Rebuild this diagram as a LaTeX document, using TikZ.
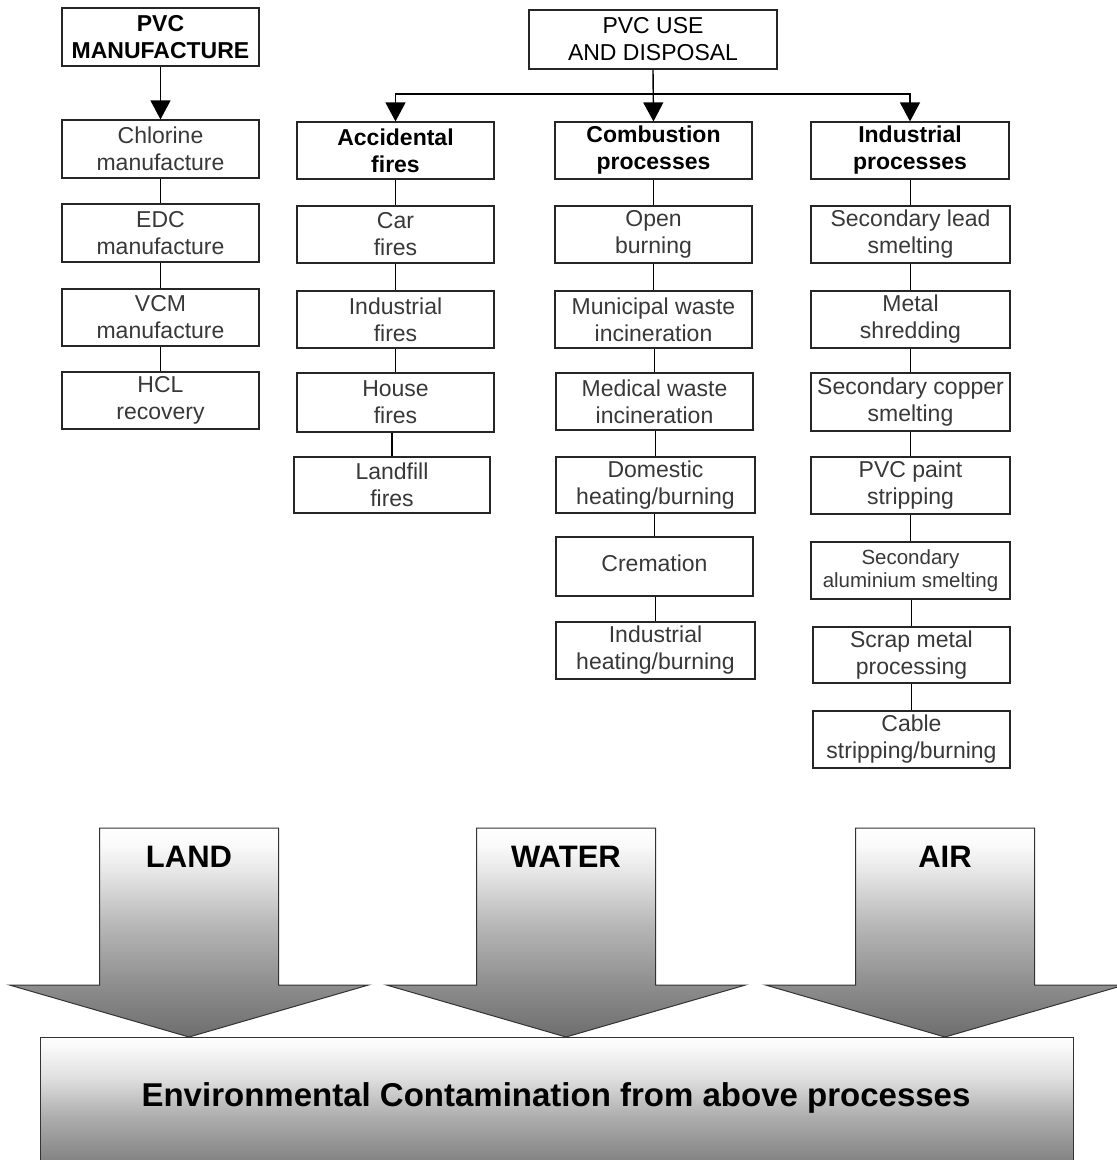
\documentclass[tikz,border=0pt]{standalone}
\usepackage{fontspec}
\setmainfont{Liberation Sans}
\usetikzlibrary{arrows.meta}
\pgfdeclareverticalshading{arrsh}{100bp}{color(0bp)=(black!57); color(25bp)=(black!57); color(37bp)=(black!45); color(52bp)=(black!28); color(65bp)=(black!9); color(71bp)=(black!2); color(75bp)=(white); color(100bp)=(white)}
\pgfdeclareverticalshading{envsh}{100bp}{color(0bp)=(black!52); color(25bp)=(black!52); color(45bp)=(black!32); color(60bp)=(black!12); color(72bp)=(black!2); color(75bp)=(white); color(100bp)=(white)}
\tikzset{
  box/.style={draw=black!85, line width=1.2pt, rectangle, inner sep=0pt, align=center,
    text=black!78, font=\fontsize{23}{27}\selectfont},
  headbox/.style={box, text=black, font=\bfseries\fontsize{23}{27}\selectfont},
  topbox/.style={box, text=black},
  smallbox/.style={box, font=\fontsize{20.5}{23}\selectfont},
  link/.style={draw=black, line width=1.4pt},
  arr/.style={link, -{Triangle[width=20pt,length=19pt]}},
  bigshape/.style={shading=arrsh, draw=black!80, line width=1pt},
  biglabel/.style={inner sep=0pt, text=black, font=\bfseries\fontsize{31}{36}\selectfont},
}
\newcommand\mybox[7]{\node[#1, minimum width=#4pt-#2pt, minimum height=#5pt-#3pt] (#6) at ({(#2+#4)/2},{(#3+#5)/2}) {#7};}
\newcommand\bigarr[3]{%
  \shadedraw[bigshape] ({#1-89.5},828) -- ({#1+89.5},828) -- ({#1+89.5},985) -- ({#1+179.5},985) -- (#1,1037) -- ({#1-179.5},985) -- ({#1-89.5},985) -- cycle;
  \node[biglabel] (#3) at (#1,857) {#2};}
\begin{document}
\begin{tikzpicture}[x=1pt,y=-1pt]
\useasboundingbox (0,0) rectangle (1117,1160);
% column 1
\mybox{headbox}{62}{8}{259}{66}{man}{PVC\\MANUFACTURE}
\mybox{box}{62}{120}{259}{178}{chl}{Chlorine\\manufacture}
\mybox{box}{62}{204}{259}{262}{edc}{EDC\\manufacture}
\mybox{box}{62}{289}{259}{346}{vcm}{VCM\\manufacture}
\mybox{box}{62}{372}{259}{429}{hcl}{HCL\\recovery}
% top of use/disposal
\mybox{topbox}{529}{10}{777}{69}{use}{PVC USE\\AND DISPOSAL}
% column 2
\mybox{headbox}{297}{122}{494}{179}{acc}{Accidental\\fires}
\mybox{box}{297}{206}{494}{263}{car}{Car\\fires}
\mybox{box}{297}{291}{494}{348}{indf}{Industrial\\fires}
\mybox{box}{297}{373}{494}{432}{house}{House\\fires}
\mybox{box}{294}{457}{490}{513}{landf}{Landfill\\fires}
% column 3
\mybox{headbox}{555}{122}{752}{179}{comb}{Combustion\\processes}
\mybox{box}{555}{206}{752}{263}{open}{Open\\burning}
\mybox{box}{555}{291}{752}{348}{muni}{Municipal waste\\incineration}
\mybox{box}{556}{373}{753}{430}{med}{Medical waste\\incineration}
\mybox{box}{556}{457}{755}{513}{dom}{Domestic\\heating/burning}
\mybox{box}{556}{537}{753}{596}{crem}{\raisebox{7pt}{Cremation}}
\mybox{box}{556}{622}{755}{679}{indh}{Industrial\\heating/burning}
% column 4
\mybox{headbox}{811}{122}{1009}{179}{ind}{Industrial\\processes}
\mybox{box}{811}{206}{1010}{263}{lead}{Secondary lead\\smelting}
\mybox{box}{811}{291}{1010}{348}{shred}{Metal\\shredding}
\mybox{box}{811}{373}{1010}{431}{copper}{Secondary copper\\smelting}
\mybox{box}{811}{457}{1010}{514}{paint}{PVC paint\\stripping}
\mybox{smallbox}{811}{542}{1010}{599}{alu}{Secondary\\aluminium smelting}
\mybox{box}{813}{627}{1010}{683}{scrap}{Scrap metal\\processing}
\mybox{box}{813}{711}{1010}{768}{cable}{Cable\\stripping/burning}
% connectors
\draw[arr] (man.south) -- (chl.north);
\foreach \a/\b in {chl/edc, edc/vcm, vcm/hcl, acc/car, car/indf, indf/house, house/landf,
  comb/open, open/muni, muni/med, med/dom, dom/crem, crem/indh,
  ind/lead, lead/shred, shred/copper, copper/paint, paint/alu, alu/scrap, scrap/cable}
  \draw[link] (\b.north |- \a.south) -- (\b.north);
\coordinate (j) at (use.south |- 0,94);
\draw[arr] (use.south) -- (comb.north);
\draw[arr] (j) -| (acc.north);
\draw[arr] (j) -| (ind.north);
% bottom
\shadedraw[shading=envsh, draw=black!80, line width=1pt] (40,1037) rectangle (1073,1170);
\node[biglabel, font=\bfseries\fontsize{33}{38}\selectfont] (env) at (556,1098) {Environmental Contamination from above processes};
\bigarr{189}{LAND}{land}
\bigarr{566}{WATER}{water}
\bigarr{945}{AIR}{air}
\end{tikzpicture}
\end{document}
